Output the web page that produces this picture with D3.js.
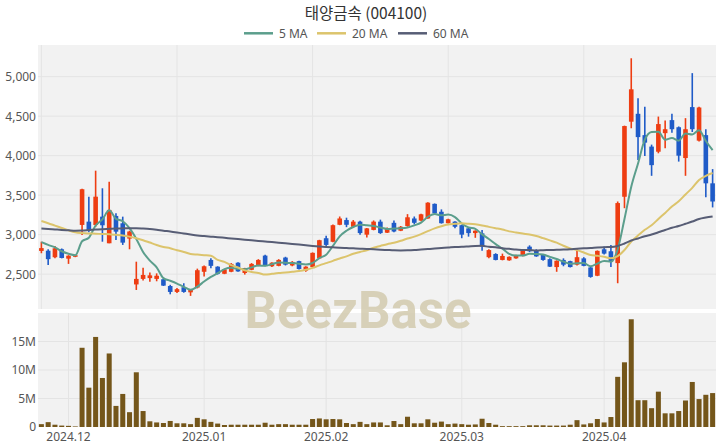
<!DOCTYPE html>
<html><head><meta charset="utf-8">
<script src="https://cdn.jsdelivr.net/npm/d3@7/dist/d3.min.js"></script>
<style>body{margin:0;background:#fff}svg{display:block}</style>
</head><body><svg id="c" width="720" height="448"></svg>
<script>
const dates = [
"2024-11-26","2024-11-27","2024-11-28","2024-11-29",
"2024-12-02","2024-12-03","2024-12-04","2024-12-05","2024-12-06",
"2024-12-09","2024-12-10","2024-12-11","2024-12-12","2024-12-13",
"2024-12-16","2024-12-17","2024-12-18","2024-12-19","2024-12-20",
"2024-12-23","2024-12-24","2024-12-26","2024-12-27","2024-12-30",
"2025-01-02","2025-01-03",
"2025-01-06","2025-01-07","2025-01-08","2025-01-09","2025-01-10",
"2025-01-13","2025-01-14","2025-01-15","2025-01-16","2025-01-17",
"2025-01-20","2025-01-21","2025-01-22","2025-01-23","2025-01-24",
"2025-01-31",
"2025-02-03","2025-02-04","2025-02-05","2025-02-06","2025-02-07",
"2025-02-10","2025-02-11","2025-02-12","2025-02-13","2025-02-14",
"2025-02-17","2025-02-18","2025-02-19","2025-02-20","2025-02-21",
"2025-02-24","2025-02-25","2025-02-26","2025-02-27","2025-02-28",
"2025-03-03","2025-03-04","2025-03-05","2025-03-06","2025-03-07",
"2025-03-10","2025-03-11","2025-03-12","2025-03-13","2025-03-14",
"2025-03-17","2025-03-18","2025-03-19","2025-03-20","2025-03-21",
"2025-03-24","2025-03-25","2025-03-26","2025-03-27","2025-03-28",
"2025-03-31",
"2025-04-01","2025-04-02","2025-04-03","2025-04-04",
"2025-04-07","2025-04-08","2025-04-09","2025-04-10","2025-04-11",
"2025-04-14","2025-04-15","2025-04-16","2025-04-17","2025-04-18",
"2025-04-21","2025-04-22","2025-04-23"
];
const open = [2794,2797,2714,2815,2696,2720,3123,3165,3123,3228,
2891,3237,3144,2950,2370,2440,2450,2440,2435,2350,
2275,2335,2270,2330,2530,2680,2595,2505,2530,2645,
2515,2555,2605,2735,2600,2605,2710,2610,2665,2545,
2590,2700,2955,2910,3125,3185,3100,3165,3000,3060,
3165,3025,3150,3050,3110,3205,3178,3205,3390,3290,
3145,3165,3120,3080,3020,3017,2715,2755,2680,2675,
2700,2730,2848,2805,2745,2690,2590,2680,2665,2620,
2700,2585,2480,2815,2790,2640,3480,4430,4530,4260,
4115,4050,4285,4450,4360,3970,4615,4190,4260,3650];
const high = [2911,2815,2857,2825,2740,2745,3580,3481,3810,3587,
3671,3271,3228,3050,2658,2580,2520,2510,2440,2365,
2325,2385,2310,2570,2610,2700,2600,2565,2640,2650,
2580,2640,2690,2745,2650,2690,2720,2665,2670,2600,
2775,2935,2985,3130,3230,3215,3185,3175,3085,3180,
3190,3090,3180,3110,3260,3230,3265,3410,3395,3320,
3200,3170,3125,3090,3055,3060,2815,2765,2760,2725,
2745,2815,2865,2815,2750,2700,2675,2700,2670,2830,
2715,2590,2800,2850,2870,3420,4380,5233,4727,4620,
4140,4495,4445,4530,4370,4475,5045,4620,4335,3830];
const low = [2765,2616,2700,2700,2630,2715,2996,3030,3100,2911,
2891,2933,2870,2815,2300,2420,2405,2410,2350,2245,
2260,2265,2225,2320,2470,2575,2495,2500,2525,2530,
2495,2550,2600,2600,2590,2600,2610,2600,2560,2530,
2585,2695,2845,2905,3120,3095,3095,3000,2965,3055,
3010,3020,3030,3045,3100,3130,3170,3200,3265,3140,
3140,3080,2955,2975,2960,2795,2700,2675,2675,2670,
2695,2725,2780,2720,2670,2590,2530,2600,2585,2610,
2600,2455,2475,2750,2590,2385,3335,4347,3945,3995,
3745,4030,4095,4290,3925,3745,4300,4180,3475,3345];
const close = [2830,2690,2828,2705,2734,2740,3575,3051,3481,3119,
3313,3038,2899,3040,2440,2490,2485,2480,2355,2275,
2310,2275,2300,2550,2600,2605,2505,2560,2630,2535,
2575,2630,2680,2605,2645,2680,2620,2655,2565,2595,
2770,2930,2870,3120,3205,3125,3165,3020,3080,3165,
3020,3080,3040,3100,3220,3150,3258,3405,3270,3145,
3195,3100,3000,3020,3050,2850,2805,2680,2730,2720,
2740,2805,2790,2725,2680,2595,2670,2620,2590,2715,
2605,2465,2795,2760,2660,3400,4375,4840,4235,4165,
3880,4400,4335,4335,4000,4335,4335,4610,3650,3420];
// volume in millions of shares
const volume = [0.5,0.85,0.4,0.25,0.2,0.1,13.9,6.9,15.8,8.6,
12.9,3.7,5.8,2.6,9.6,2.8,1.0,0.8,0.7,1.06,
0.65,0.65,0.5,1.6,1.35,0.9,0.6,0.35,0.4,0.4,
0.4,0.4,0.4,0.75,0.4,0.5,0.5,0.4,0.4,0.4,
1.4,1.5,1.35,1.4,1.35,0.7,0.5,0.9,0.5,0.8,
0.8,0.3,1.05,0.5,1.8,0.65,0.65,1.35,0.75,0.95,
0.5,0.6,0.5,0.4,0.45,1.45,0.7,0.4,0.15,0.15,
0.15,0.15,0.3,0.3,0.3,0.25,0.25,0.25,0.4,1.2,
0.45,0.65,1.4,0.8,1.75,8.8,11.35,18.9,4.7,4.7,
3.3,6.2,2.4,2.4,2.8,4.65,7.9,4.9,5.65,5.95];
// closes of the 4 sessions before the first visible one (read from the 5 MA start)
const prevCloses = [2865,2978,2955,2897];
// 20 MA / 60 MA values read where the visible closes are not enough
const ma20Head = [3173,3145,3115,3085,3055,3030,3020,3015,3012,3008,3005,2998,2990,2975,2955,2930,2900,2870,2845];
const ma60Head = [3078,3072,3066,3060,3055,3050,3052,3058,3064,3070,3074,3078,3080,3082,3082,3078,3072,3062,3050,3040,
3028,3015,3002,2990,2982,2975,2968,2960,2952,2944,2936,2928,2920,2913,2906,2898,2890,2882,2874,2866,
2858,2851,2845,2840,2835,2831,2827,2823,2819,2815,2810,2806,2802,2800,2802,2806,2812,2818,2824];
const priceTicks = [2500,3000,3500,4000,4500,5000];
const volTicks = [0,5,10,15];
const volTickLabels = ["0","5M","10M","15M"];
const monthTickDates = ["2024-12-02","2025-01-02","2025-02-03","2025-03-03","2025-04-01"];
const monthTickLabels = ["2024.12","2025.01","2025.02","2025.03","2025.04"];
const seriesNames = ["5 MA","20 MA","60 MA"];
const seriesColors = ["#5b9e8c","#dcc46c","#575d75"];
const title = "태양금속 (004100)";

const n = dates.length;
const allCloses = prevCloses.concat(close);
const ma5 = close.map((c,i)=> d3.mean(allCloses.slice(i, i+5)));
const ma20 = close.map((c,i)=> i<19 ? ma20Head[i] : d3.mean(close.slice(i-19,i+1)));
const ma60 = close.map((c,i)=> i<59 ? ma60Head[i] : d3.mean(close.slice(i-59,i+1)));
const maSeries = [ma5, ma20, ma60];

const svg = d3.select("#c");
const L = 38, R = 716, PT = 45, PB = 309, VT = 313, VB = 427;
const UP = "#ee3d12", DOWN = "#1f5bc8", VOL = "#74561a";
const font = "'Noto Sans', 'DejaVu Sans', sans-serif";

const x = d3.scaleBand().domain(dates).range([L, R]).padding(0);
const bw = x.bandwidth();
const cx = d => x(d) + bw/2;
const yP = d3.scaleLinear().domain([2059, 5401]).range([PB, PT]);
const yV = d3.scaleLinear().domain([0, 20]).range([VB, VT]);

// panels
svg.append("rect").attr("x",L).attr("y",PT).attr("width",R-L).attr("height",PB-PT).attr("fill","#f2f2f2");
svg.append("rect").attr("x",L).attr("y",VT).attr("width",R-L).attr("height",VB-VT).attr("fill","#f2f2f2");

const grid = svg.append("g").attr("stroke","#e4e4e4").attr("stroke-width",1);
priceTicks.forEach(t=>grid.append("line").attr("x1",L).attr("x2",R).attr("y1",yP(t)).attr("y2",yP(t)));
dates.forEach((d,i)=>{ if(i%20===0) grid.append("line").attr("x1",cx(d)).attr("x2",cx(d)).attr("y1",PT).attr("y2",PB); });
volTicks.slice(1).forEach(t=>grid.append("line").attr("x1",L).attr("x2",R).attr("y1",yV(t)).attr("y2",yV(t)));
monthTickDates.forEach(d=>grid.append("line").attr("x1",cx(d)).attr("x2",cx(d)).attr("y1",VT).attr("y2",VB));

// candles
const cg = svg.append("g");
dates.forEach((d,i)=>{
  const up = close[i] >= open[i];
  const col = up ? UP : DOWN;
  cg.append("line").attr("x1",cx(d)).attr("x2",cx(d)).attr("y1",yP(high[i])).attr("y2",yP(low[i]))
    .attr("stroke",col).attr("stroke-width",1.6);
  const top = yP(Math.max(open[i],close[i])), bot = yP(Math.min(open[i],close[i]));
  cg.append("rect").attr("x",cx(d)-bw*0.34).attr("width",bw*0.68)
    .attr("y",top).attr("height",Math.max(1.5,bot-top)).attr("fill",col);
});

// moving averages
const line = d3.line().x((v,i)=>cx(dates[i])).y(v=>yP(v)).curve(d3.curveMonotoneX);
maSeries.forEach((s,k)=>{
  svg.append("path").attr("d",line(s)).attr("fill","none").attr("stroke",seriesColors[k]).attr("stroke-width",2);
});

// volume
svg.append("g").selectAll("rect").data(dates).join("rect")
  .attr("x",d=>cx(d)-bw*0.37).attr("width",bw*0.74)
  .attr("y",(d,i)=>yV(volume[i])).attr("height",(d,i)=>yV(0)-yV(volume[i])).attr("fill",VOL);

// axes
const ay = svg.append("g").attr("transform",`translate(${L},0)`)
  .call(d3.axisLeft(yP).tickValues(priceTicks).tickFormat(d3.format(",")).tickSize(0).tickPadding(2));
const av = svg.append("g").attr("transform",`translate(${L},0)`)
  .call(d3.axisLeft(yV).tickValues(volTicks).tickFormat((d,i)=>volTickLabels[i]).tickSize(0).tickPadding(2));
const ax = svg.append("g").attr("transform",`translate(0,${VB})`)
  .call(d3.axisBottom(x).tickValues(monthTickDates).tickFormat((d,i)=>monthTickLabels[i]).tickSize(0).tickPadding(5.5));
[ay,av,ax].forEach(a=>{ a.select(".domain").remove(); a.selectAll("text").attr("fill","#555").style("font-family",font).style("font-size","12px"); });

// title
svg.append("text").attr("x",366).attr("y",19).attr("text-anchor","middle")
  .style("font-family","'Noto Sans CJK KR', 'Noto Sans', sans-serif").style("font-size","15.5px").attr("fill","#333").text(title);

// legend
const legX = [244, 317, 398];
seriesNames.forEach((nm,k)=>{
  svg.append("line").attr("x1",legX[k]).attr("x2",legX[k]+29).attr("y1",33.3).attr("y2",33.3)
    .attr("stroke",seriesColors[k]).attr("stroke-width",2.5);
  svg.append("text").attr("x",legX[k]+35).attr("y",33.3).attr("dy","0.35em")
    .style("font-family",font).style("font-size","12px").attr("fill","#555").text(nm);
});

// watermark
svg.append("text").attr("x",358).attr("y",328).attr("text-anchor","middle")
  .style("font-family","Roboto, 'DejaVu Sans', sans-serif").style("font-weight","bold").style("font-size","51px")
  .attr("fill","#d3cbae").attr("opacity",0.85).text("BeezBase");
</script></body></html>
